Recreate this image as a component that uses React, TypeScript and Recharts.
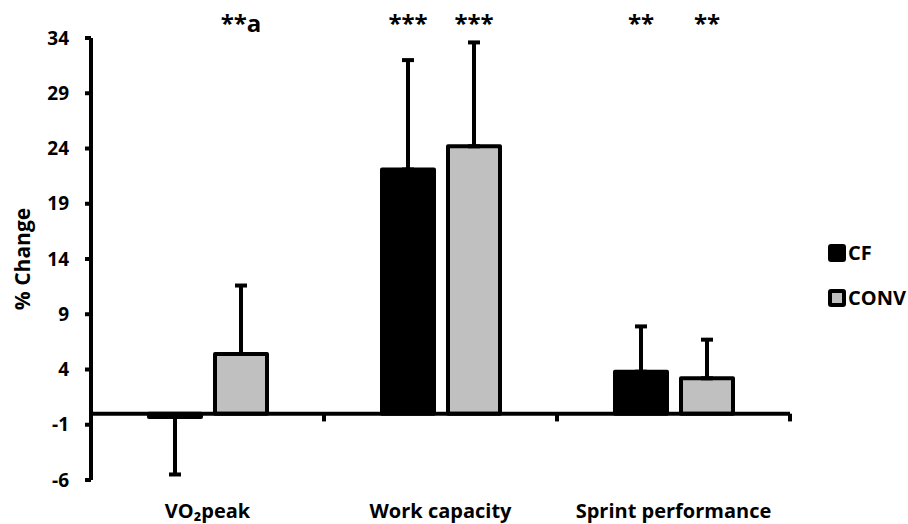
import { BarChart, Bar, XAxis, YAxis, ErrorBar, ReferenceLine, Legend, LabelList } from "recharts";

const categories = ["VO₂peak", "Work capacity", "Sprint performance"];
const cfMean = [-0.3, 22.1, 3.8];
const cfSd = [5.2, 9.9, 4.1];
const convMean = [5.4, 24.2, 3.2];
const convSd = [6.2, 9.4, 3.5];
const cfSig = ["", "***", "**"];
const convSig = ["**a", "***", "**"];
const yTicks = [-6, -1, 4, 9, 14, 19, 24, 29, 34];

const FONT = "'Open Sans', sans-serif";
const GREY = "#c0c0c0";

// one-sided error bars: downward for negative means, upward otherwise
const oneSided = (mean: number, sd: number) => (mean < 0 ? [sd, 0] : [0, sd]);

const data = categories.map((name, i) => ({
  name,
  cf: cfMean[i],
  cfErr: oneSided(cfMean[i], cfSd[i]),
  cfSig: cfSig[i],
  conv: convMean[i],
  convErr: oneSided(convMean[i], convSd[i]),
  convSig: convSig[i],
}));

function SigLabel(props: any) {
  const { x, width, value } = props;
  if (!value) return null;
  return (
    <text x={x + width / 2} y={32} textAnchor="middle" fontSize={24} fontWeight={700} fontFamily={FONT} fill="#000">
      {value}
    </text>
  );
}

function LegendBox() {
  const items = [
    { label: "CF", fill: "#000" },
    { label: "CONV", fill: GREY },
  ];
  return (
    <div style={{ display: "flex", flexDirection: "column", gap: 27 }}>
      {items.map((it) => (
        <div key={it.label} style={{ display: "flex", alignItems: "center", gap: 2 }}>
          <span
            style={{
              width: 10,
              height: 10,
              background: it.fill,
              border: "4px solid #000",
              borderRadius: 3,
              display: "inline-block",
            }}
          />
          <span style={{ fontFamily: FONT, fontWeight: 700, fontSize: 20, color: "#000", lineHeight: "18px" }}>
            {it.label}
          </span>
        </div>
      ))}
    </div>
  );
}

export default function App() {
  return (
    <div style={{ position: "absolute", left: 0, top: 0, background: "#fff" }}>
      <BarChart
        width={908}
        height={524}
        data={data}
        margin={{ top: 38, right: 34, bottom: 0, left: 0 }}
        barGap={14}
      >
        <XAxis
          dataKey="name"
          axisLine={false}
          tickLine={false}
          height={44}
          tickMargin={18}
          tick={{ fontSize: 20, fontWeight: 700, fill: "#000", fontFamily: FONT }}
        />
        <YAxis
          domain={[-6, 34]}
          ticks={yTicks}
          interval={0}
          width={91}
          axisLine={{ stroke: "#000", strokeWidth: 4 }}
          tickLine={{ stroke: "#000", strokeWidth: 4 }}
          tickSize={6}
          tickMargin={16}
          tick={{ fontSize: 19, fontWeight: 700, fill: "#000", fontFamily: FONT }}
          label={{
            value: "% Change",
            angle: -90,
            position: "insideLeft",
            offset: 23,
            style: { textAnchor: "middle", fontSize: 21, fontWeight: 700, fill: "#000", fontFamily: FONT },
          }}
        />
        <Legend
          layout="vertical"
          align="right"
          verticalAlign="middle"
          content={<LegendBox />}
          wrapperStyle={{ width: 84, left: 828, right: "auto", top: 244 }}
        />
        <ReferenceLine y={0} stroke="#000" strokeWidth={4} />
        {/* small ticks at the right end of each category band, hanging below zero */}
        {categories.map((c) => (
          <ReferenceLine
            key={c}
            position="end"
            segment={[
              { x: c, y: 0 },
              { x: c, y: -0.7 },
            ]}
            stroke="#000"
            strokeWidth={4}
          />
        ))}
        <Bar dataKey="cf" name="CF" fill="#000" stroke="#000" strokeWidth={4} strokeLinejoin="round" barSize={52} isAnimationActive={false}>
          <ErrorBar dataKey="cfErr" direction="y" width={6} stroke="#000" strokeWidth={4} />
          <LabelList dataKey="cfSig" content={<SigLabel />} />
        </Bar>
        <Bar dataKey="conv" name="CONV" fill={GREY} stroke="#000" strokeWidth={4} strokeLinejoin="round" barSize={52} isAnimationActive={false}>
          <ErrorBar dataKey="convErr" direction="y" width={6} stroke="#000" strokeWidth={4} />
          <LabelList dataKey="convSig" content={<SigLabel />} />
        </Bar>
      </BarChart>
    </div>
  );
}
